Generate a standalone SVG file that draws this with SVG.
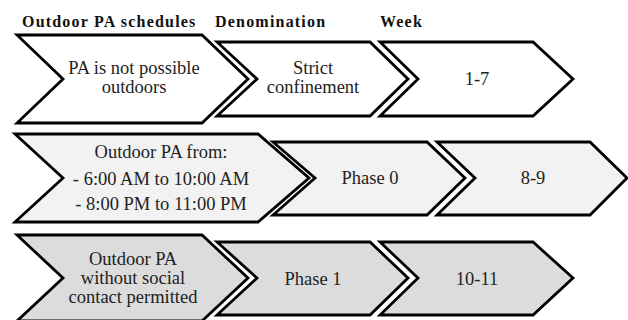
<svg xmlns="http://www.w3.org/2000/svg" width="628" height="320" viewBox="0 0 628 320" font-family="Liberation Serif, Times New Roman, serif">
<style>
.c{stroke:#000;stroke-width:2.8;stroke-linejoin:miter}
.r1{fill:#ffffff}.r2{fill:#f2f2f2}.r3{fill:#dcdcdc}
.t{font-size:18.5px;fill:#222;text-anchor:middle}
.h{font-size:16px;font-weight:bold;fill:#111;letter-spacing:1.2px}
</style>
<rect width="628" height="320" fill="#fff"/>
<g id="headers">
<text class="h" x="22" y="27">Outdoor PA schedules</text>
<text class="h" x="215" y="27">Denomination</text>
<text class="h" x="380" y="27">Week</text>
</g>
<g id="r1-schedule">
<polygon class="c r1" points="17,35 202,35 248,79 202,123 17,123 63,79"/>
<text class="t" x="134" y="74">PA is not possible</text>
<text class="t" x="134" y="93">outdoors</text>
</g>
<g id="r1-denomination">
<polygon class="c r1" points="217,42 370,42 408,79 370,116 217,116 257,79"/>
<text class="t" x="313" y="74">Strict</text>
<text class="t" x="313" y="93">confinement</text>
</g>
<g id="r1-week">
<polygon class="c r1" points="380,42 533,42 573,79 533,116 380,116 418,79"/>
<text class="t" x="477" y="85">1-7</text>
</g>
<g id="r2-schedule">
<polygon class="c r2" points="15,134 258,134 309,178 258,222 15,222 63,178"/>
<text class="t" x="161" y="158">Outdoor PA from:</text>
<text class="t" x="161" y="185">- 6:00 AM to 10:00 AM</text>
<text class="t" x="161" y="210">- 8:00 PM to 11:00 PM</text>
</g>
<g id="r2-denomination">
<polygon class="c r2" points="273,142 427,142 465,178 427,215 273,215 315,178"/>
<text class="t" x="370" y="184">Phase 0</text>
</g>
<g id="r2-week">
<polygon class="c r2" points="437,142 590,142 627,178 590,215 437,215 475,178"/>
<text class="t" x="533" y="184">8-9</text>
</g>
<g id="r3-schedule">
<polygon class="c r3" points="17,235 202,235 248,278 202,321 17,321 63,278"/>
<text class="t" x="133" y="265">Outdoor PA</text>
<text class="t" x="133" y="284">without social</text>
<text class="t" x="133" y="303">contact permitted</text>
</g>
<g id="r3-denomination">
<polygon class="c r3" points="217,242 370,242 408,278 370,315 217,315 257,278"/>
<text class="t" x="313" y="285">Phase 1</text>
</g>
<g id="r3-week">
<polygon class="c r3" points="380,242 533,242 573,278 533,315 380,315 418,278"/>
<text class="t" x="477" y="285">10-11</text>
</g>
</svg>
